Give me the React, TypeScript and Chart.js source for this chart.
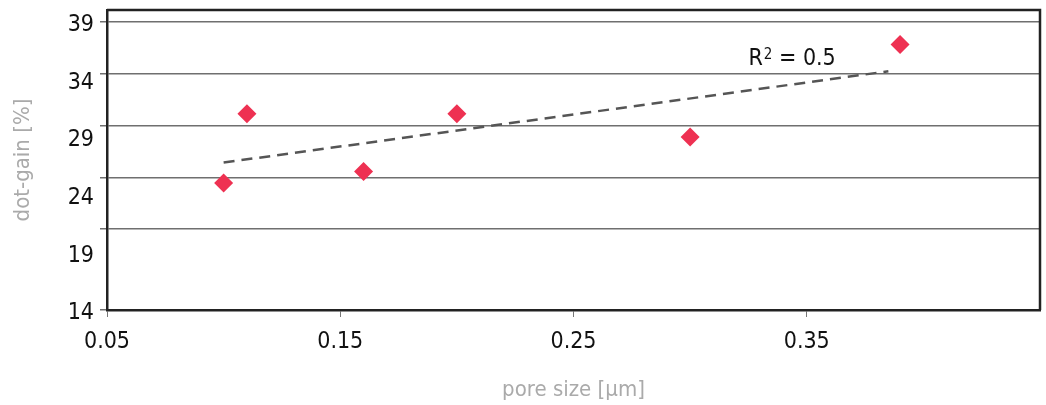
import React, { useEffect, useRef } from 'react';
import { Chart, registerables } from 'chart.js';

Chart.register(...registerables);

// ---- data ----
const poreSize = [0.1, 0.11, 0.16, 0.2, 0.3, 0.39];
const dotGain = [25, 31, 26, 31, 29, 37];
const xTickValues = [0.05, 0.15, 0.25, 0.35];
const yTickValues = [14, 19, 24, 29, 34, 39];
const yGridValues = [14, 21, 25.5, 30, 34.5, 39];
const trendX = [0.1, 0.385];
const xTitle = 'pore size [μm]';
const yTitle = 'dot-gain [%]';
const r2LabelPos = [0.325, 35.2];

const FONT = "'Liberation Sans Narrow', 'DejaVu Sans Condensed', 'Roboto', sans-serif";

function linReg(xs: number[], ys: number[]) {
  const n = xs.length;
  const mx = xs.reduce((a, b) => a + b, 0) / n;
  const my = ys.reduce((a, b) => a + b, 0) / n;
  let sxx = 0, sxy = 0, syy = 0;
  for (let i = 0; i < n; i++) {
    sxx += (xs[i] - mx) ** 2;
    sxy += (xs[i] - mx) * (ys[i] - my);
    syy += (ys[i] - my) ** 2;
  }
  const slope = sxy / sxx;
  const intercept = my - slope * mx;
  const r2 = (sxy * sxy) / (sxx * syy);
  return { slope, intercept, r2 };
}

const framePlugin = {
  id: 'frame',
  beforeDatasetsDraw(chart: any) {
    const { ctx, chartArea: a } = chart;
    ctx.save();
    ctx.strokeStyle = '#222';
    ctx.lineWidth = 2.5;
    ctx.beginPath();
    ctx.moveTo(a.left, a.top);
    ctx.lineTo(a.right, a.top);
    ctx.lineTo(a.right, a.bottom);
    ctx.stroke();
    ctx.restore();
  },
};

const zeroPad = (s: any) => {
  s.paddingTop = 0;
  s.paddingBottom = 0;
  s.paddingLeft = 0;
  s.paddingRight = 0;
};

export default function App() {
  const ref = useRef<HTMLCanvasElement | null>(null);

  useEffect(() => {
    if (!ref.current) return;
    const reg = linReg(poreSize, dotGain);
    const r2Text = reg.r2.toFixed(1);

    const r2Plugin = {
      id: 'r2label',
      afterDatasetsDraw(chart: any) {
        const { ctx, scales } = chart;
        const x = scales.x.getPixelForValue(r2LabelPos[0]);
        const y = scales.y.getPixelForValue(r2LabelPos[1]);
        ctx.save();
        ctx.fillStyle = '#111';
        ctx.textBaseline = 'alphabetic';
        ctx.textAlign = 'left';
        ctx.font = `23px ${FONT}`;
        ctx.fillText('R', x, y);
        const w1 = ctx.measureText('R').width;
        ctx.font = `15px ${FONT}`;
        ctx.fillText('2', x + w1 + 1, y - 6);
        const w2 = ctx.measureText('2').width;
        ctx.font = `23px ${FONT}`;
        ctx.fillText(' = ' + r2Text, x + w1 + 1 + w2, y);
        ctx.restore();
      },
    };

    const tickFont = { family: FONT, size: 23 };
    const titleFont = { family: FONT, size: 22 };

    const chart = new Chart(ref.current, {
      type: 'scatter',
      data: {
        datasets: [
          {
            type: 'line',
            label: 'trend',
            data: trendX.map((x) => ({ x, y: reg.intercept + reg.slope * x })),
            borderColor: '#555',
            borderWidth: 2.5,
            borderDash: [11, 7],
            pointRadius: 0,
            fill: false,
            xAxisID: 'x',
            yAxisID: 'y',
          } as any,
          {
            label: 'dot-gain',
            data: poreSize.map((x, i) => ({ x, y: dotGain[i] })),
            pointStyle: 'rectRot',
            pointRadius: 9.5,
            pointHoverRadius: 9.5,
            backgroundColor: '#EE3152',
            borderWidth: 0,
            xAxisID: 'x',
            yAxisID: 'y',
          },
        ],
      },
      options: {
        animation: false,
        responsive: true,
        maintainAspectRatio: false,
        layout: { autoPadding: false, padding: { left: 0, right: 6, top: 10, bottom: 0 } },
        plugins: { legend: { display: false }, tooltip: { enabled: false } },
        scales: {
          x: {
            type: 'linear',
            position: 'bottom',
            min: 0.05,
            max: 0.45,
            afterBuildTicks: (s: any) => {
              s.ticks = xTickValues.map((v) => ({ value: v }));
            },
            afterFit: (s: any) => {
              s.height = 95;
              zeroPad(s);
            },
            ticks: {
              font: tickFont,
              color: '#111',
              padding: 11,
              callback: (v: any) => Number(v).toFixed(2),
            },
            grid: { drawOnChartArea: false, drawTicks: true, tickLength: 7, color: '#777' },
            border: { display: true, color: '#222', width: 2.5 },
            title: { display: true, text: xTitle, font: titleFont, color: '#aaa', padding: { top: 0, bottom: 2 } },
          },
          y: {
            type: 'linear',
            position: 'left',
            weight: 0,
            min: 14,
            max: 40,
            afterBuildTicks: (s: any) => {
              s.ticks = yGridValues.map((v) => ({ value: v }));
            },
            afterFit: (s: any) => {
              s.width = 7;
              zeroPad(s);
            },
            ticks: { display: false },
            grid: { color: '#6f6f6f', lineWidth: 1.5, tickLength: 7, drawTicks: true },
            border: { display: true, color: '#222', width: 2.5 },
          },
          yl: {
            type: 'linear',
            position: 'left',
            weight: 1,
            min: 14.3,
            max: 40.3,
            afterBuildTicks: (s: any) => {
              s.ticks = yTickValues.map((v) => ({ value: v }));
            },
            afterFit: (s: any) => {
              s.width = 100;
              zeroPad(s);
            },
            ticks: { font: tickFont, color: '#111', padding: 6, callback: (v: any) => String(v) },
            grid: { display: false, drawTicks: false },
            border: { display: false },
            title: { display: true, text: yTitle, font: titleFont, color: '#aaa', padding: { top: 10, bottom: 0 } },
          },
        } as any,
      },
      plugins: [framePlugin, r2Plugin],
    });
    return () => chart.destroy();
  }, []);

  return (
    <div style={{ position: 'absolute', left: 0, top: 0, width: 1046, height: 405 }}>
      <canvas ref={ref} />
    </div>
  );
}
